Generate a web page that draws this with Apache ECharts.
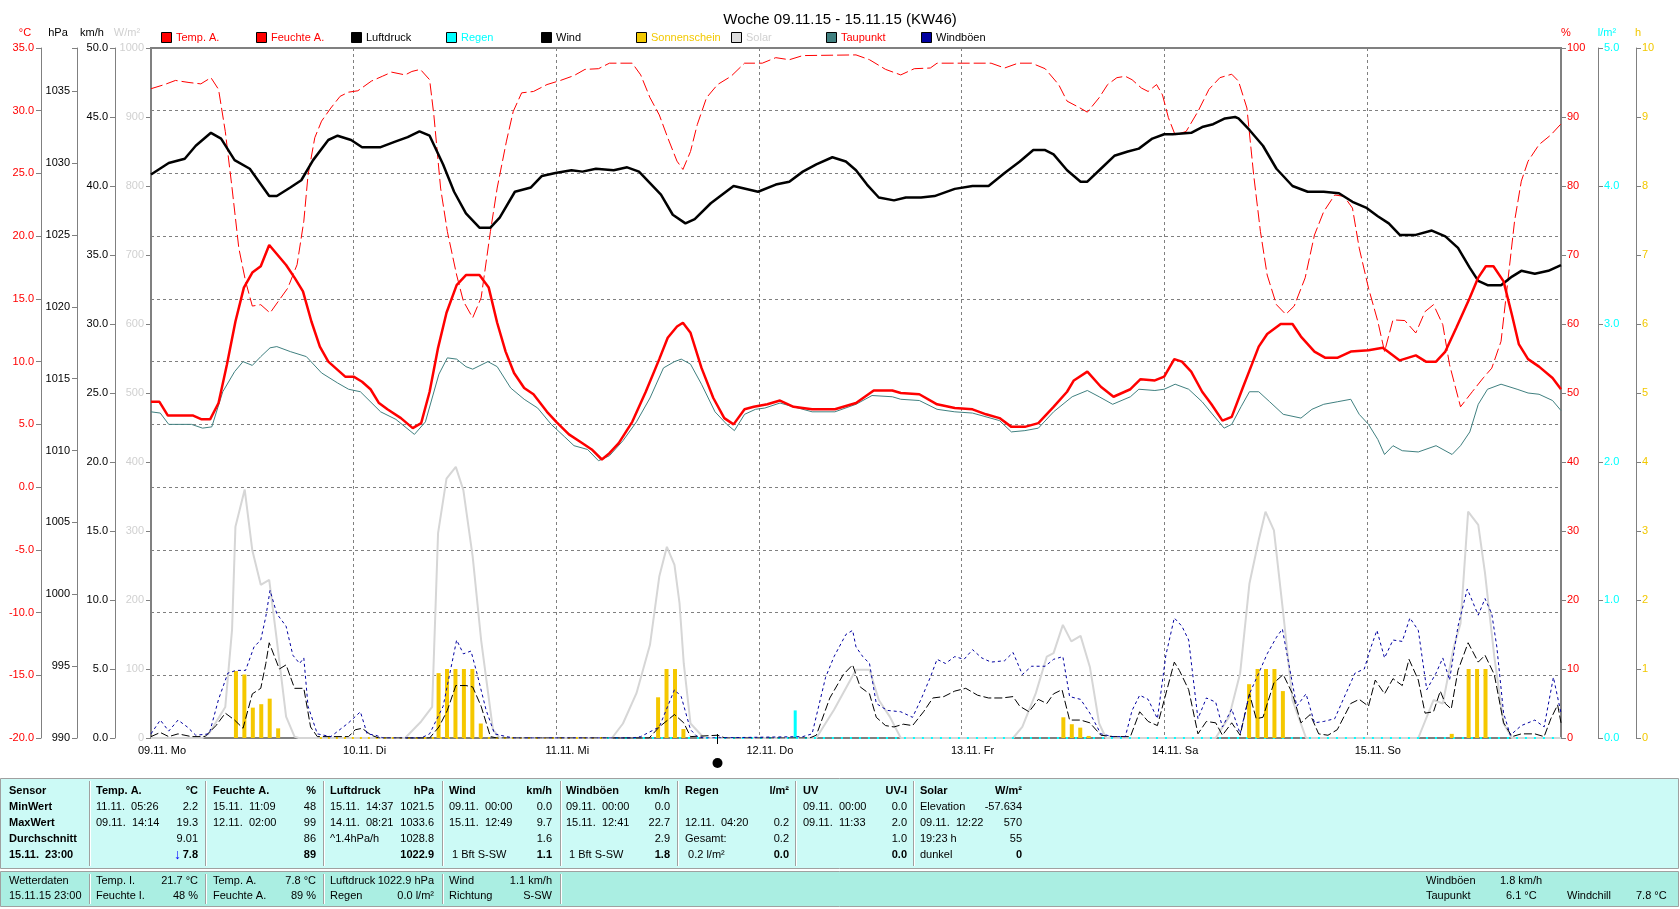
<!DOCTYPE html>
<html>
<head>
<meta charset="utf-8">
<script src="https://cdn.jsdelivr.net/npm/echarts@6/dist/echarts.min.js"></script>
<style>
html,body{margin:0;padding:0;background:#fff;}
#chart{width:1680px;height:909px;}
</style>
</head>
<body>
<div id="chart"></div>
<script>
// ---------------- DATA (hour since 09.11. 00:00, value) ----------------
const dayLabels = ['09.11. Mo','10.11. Di','11.11. Mi','12.11. Do','13.11. Fr','14.11. Sa','15.11. So'];

const temperature = [[0,6.8],[1,6.8],[2,5.7],[5,5.7],[6,5.4],[7,5.4],[8,6.7],[9,9.8],[10,13.2],[11,15.9],[12,17.1],[13,17.6],[14,19.3],[16,17.7],[17,16.7],[18,15.6],[19,13.2],[20,11.2],[21,10.0],[22,9.4],[23,8.8],[24,8.8],[25,8.4],[26,7.8],[27,6.7],[28,6.2],[29.6,5.5],[31,4.7],[32,5.1],[33,7.6],[34,11.1],[35,13.9],[36.2,16.1],[37.3,16.9],[38.9,16.9],[40,15.9],[41,13.1],[42,10.8],[43,9.1],[44.2,7.9],[45.3,7.4],[46.9,6.0],[48,5.2],[49.5,4.2],[51.1,3.5],[52.2,3.0],[53.4,2.2],[54.3,2.7],[55.4,3.5],[57,5.2],[58.6,7.6],[60.2,10.2],[61.2,11.9],[62.3,12.8],[63,13.1],[63.9,12.3],[65.2,9.5],[66.6,7.1],[67.9,5.5],[69,5.0],[70.3,6.2],[71.4,6.4],[73,6.6],[74.5,6.9],[76.1,6.4],[78.3,6.2],[81,6.2],[83.5,6.7],[85.6,7.7],[87.8,7.7],[88.8,7.5],[91,7.4],[93.1,6.6],[95.2,6.3],[97.3,6.2],[98.9,5.8],[100.5,5.5],[101.9,4.8],[103.5,4.8],[105.1,5.1],[106.9,6.4],[108.5,7.6],[109.3,8.5],[110.9,9.2],[112.5,8.0],[114,7.2],[116,7.8],[117.2,8.6],[118.9,8.5],[120,8.8],[121.2,10.2],[122.1,10.0],[123.2,9.2],[124.5,7.6],[125.6,6.6],[126.9,5.3],[128,5.6],[129.3,7.9],[130.4,9.8],[131.2,11.2],[132.2,12.2],[133.8,13.0],[135.2,13.0],[136.2,12.0],[137.8,10.8],[139.1,10.3],[140.5,10.3],[142.1,10.8],[144.2,10.9],[145.9,11.1],[147.9,10.1],[149.8,10.5],[151,10.0],[152.2,10.0],[153.3,10.8],[154.6,12.7],[156.2,15.1],[157.2,16.7],[158.1,17.6],[159,17.6],[160.2,16.4],[161.2,13.7],[162,11.4],[163.1,10.2],[164.4,9.6],[166,8.7],[167,7.8]];

const humidity = [[0,94.1],[1.6,94.7],[2.9,95.3],[4.5,95.0],[5.9,94.8],[7.1,95.7],[8,94],[8.8,87.9],[9.6,79.7],[10.4,71],[11.2,66.2],[12,62.6],[13,62.8],[14.1,61.6],[15.2,63.5],[16.2,65.2],[17.3,68.6],[18.1,74.9],[18.6,81.6],[19.4,87],[20.2,89.4],[21.3,91.3],[22.4,93],[23.4,93.6],[24.5,93.8],[26.1,95.2],[27.4,95.9],[28.5,96.5],[30.1,96.1],[30.9,96.6],[31.9,96.9],[33,95.4],[33.5,90.3],[34.3,79.7],[35.1,73.4],[36.2,67.1],[37,63.3],[38.1,60.9],[39.1,63.8],[40.2,73.4],[41,79.7],[42.1,86.5],[42.9,90.8],[43.9,93.5],[45.3,93.7],[46.9,94.7],[48.5,95.3],[50.1,96],[51.4,96.9],[53,97],[54.3,97.8],[57,97.8],[58,96.1],[59.1,92.8],[60.2,90.3],[61.2,87],[62.3,83.6],[63,82.4],[63.9,85],[64.7,88.9],[65.8,92.8],[67.1,94.7],[68.7,95.9],[70.3,97.8],[72.4,97.8],[74,98.6],[75.6,98.3],[77.2,98.9],[83.5,99],[85.1,98.3],[87,96.9],[88.8,96.1],[90.4,97],[92.3,97.1],[93.1,97.8],[99.5,97.8],[101.1,97.1],[102.7,97.8],[104.3,97.8],[105.9,97],[107.5,94.7],[108.5,92.3],[109.9,91.4],[110.9,90.7],[112.3,92.8],[113.3,94.7],[114.4,95.7],[115.4,95.9],[116.2,95.4],[117.3,94.2],[118.1,93.7],[119.1,94.7],[119.8,93.2],[120.5,89.9],[121.3,87.4],[122.6,87.9],[124,90.8],[125.3,94],[126.6,95.7],[128,96.2],[128.8,95.2],[129.8,91.3],[130.6,81.6],[131.4,73.4],[132.2,67.1],[133.3,62.8],[134.4,61.4],[135.4,62.6],[136.7,66.7],[137.8,72.9],[138.9,76.3],[140.2,78.7],[141.3,78.5],[142.3,76.8],[143.1,71],[144.2,65.2],[145.3,60.4],[146.1,56],[147.1,60.6],[148.5,60.5],[149.8,58.7],[150.9,61.8],[151.9,62.8],[153,59.9],[153.8,54.1],[155.1,48],[156.5,50.2],[157.8,52.2],[158.8,53.6],[159.9,57.5],[160.7,66.2],[161.5,74.9],[162.3,80.7],[163.1,83.6],[164.4,86],[165.8,87.4],[167,89]];

const pressure = [[0,1029.2],[2.1,1030],[4,1030.3],[5.3,1031.2],[7.1,1032.1],[8.3,1031.7],[9.9,1030.2],[11.7,1029.6],[14,1027.7],[14.9,1027.7],[16.5,1028.3],[17.8,1028.8],[19.2,1030.2],[21,1031.6],[22.1,1031.9],[23.7,1031.6],[25,1031.1],[27.2,1031.1],[29,1031.5],[30.4,1031.8],[31.8,1032.2],[33,1031.9],[34.6,1029.9],[35.9,1028],[37.3,1026.5],[38.9,1025.5],[40.2,1025.5],[41.3,1026.2],[43.1,1028],[45,1028.3],[46.3,1029.1],[47.9,1029.3],[49.8,1029.5],[51.1,1029.4],[52.7,1029.6],[54.8,1029.5],[56.4,1029.7],[57.8,1029.4],[59.1,1028.6],[60.4,1027.8],[61.8,1026.4],[63.3,1025.8],[64.4,1026.1],[66.3,1027.2],[69,1028.4],[71.9,1028],[74,1028.5],[75.6,1028.7],[77.2,1029.4],[78.8,1029.9],[80.7,1030.4],[82.3,1030.1],[83.5,1029.5],[84.8,1028.5],[86.2,1027.6],[88,1027.4],[89.4,1027.6],[91.2,1027.6],[92.8,1027.7],[95.2,1028.2],[97.3,1028.4],[99.2,1028.4],[101.1,1029.3],[102.9,1030.1],[104.5,1030.9],[105.9,1030.9],[106.9,1030.6],[108.5,1029.5],[110.1,1028.7],[110.9,1028.7],[112.5,1029.6],[114.1,1030.5],[115.7,1030.8],[117,1031],[118.6,1031.7],[120,1032],[121,1032],[123.2,1032.1],[124.5,1032.5],[125.8,1032.7],[127.2,1033.1],[128.4,1033.2],[128.8,1033.1],[130.1,1032.3],[131.7,1031.2],[133.3,1029.6],[135.2,1028.4],[137,1028],[138.9,1028],[140.7,1027.9],[142.3,1027.3],[143.9,1026.9],[145.3,1026.3],[146.6,1025.8],[147.9,1025],[149.8,1025],[151.7,1025.3],[153.3,1024.9],[154.8,1024.1],[156.2,1022.7],[157.2,1021.8],[158.3,1021.5],[159.9,1021.5],[161.2,1022.1],[162.3,1022.5],[163.9,1022.3],[165.5,1022.5],[167,1022.9]];

const dewPoint = [[0,6.0],[1.1,5.9],[2.1,5.0],[4.8,5.0],[6.1,4.7],[7.2,4.8],[8.5,7.6],[9.9,9.2],[10.9,10.0],[12,9.7],[13,10.4],[14.1,11.1],[14.9,11.2],[16.5,10.8],[18.4,10.4],[20.2,9.1],[22.1,8.3],[23.4,7.8],[24.8,7.6],[27.2,6.0],[29,5.4],[31.2,4.2],[32.5,5.2],[34.1,9.0],[35.1,10.3],[36.2,10.2],[37.3,9.6],[38.1,9.4],[39.9,10.0],[41,9.6],[42.6,7.9],[44.2,7.0],[45.8,6.3],[47.4,5.0],[49,4.0],[50.1,3.3],[51.7,3.0],[53,2.1],[54.3,2.5],[55.9,3.7],[57.5,5.2],[59.1,7.1],[60.7,9.5],[62,10.0],[62.8,10.2],[63.9,9.8],[65.2,8.2],[66.8,6.0],[68.2,5.0],[69.1,4.5],[70.3,5.8],[71.6,6.2],[72.7,6.3],[74.5,6.7],[76.1,6.4],[78.3,6.0],[81,6.0],[83.5,6.6],[85.4,7.3],[87.8,7.2],[88.8,7.0],[91,6.9],[93.1,6.2],[95.2,6.0],[97.3,5.9],[98.9,5.6],[100.5,5.3],[101.9,4.4],[103.5,4.5],[105.1,4.7],[106.9,6.0],[109.1,7.2],[110.9,7.7],[112.3,7.2],[113.9,6.6],[116,7.2],[117,7.8],[118.9,7.7],[120,7.8],[121.3,8.2],[122.9,7.8],[124.5,6.8],[125.6,5.9],[127.1,4.7],[128,5.0],[129.1,6.4],[130.1,7.6],[131.2,7.6],[132.5,6.8],[134.1,5.8],[136.2,5.5],[137.5,6.2],[138.9,6.6],[140.5,6.8],[142.1,7.0],[143.1,5.8],[144.2,5.0],[145.3,3.8],[146.1,2.6],[147.1,3.3],[148.2,2.9],[150.1,2.8],[152.2,3.3],[154.1,2.6],[155.1,3.3],[156.2,4.4],[157.2,6.6],[158.3,7.8],[159.9,8.2],[161.8,7.8],[163.1,7.5],[164.4,7.4],[166,6.9],[167,6.1]];

const solar = [[0,0],[6.1,0],[6.9,7],[8.8,45],[9.6,157],[10,306],[11.1,360],[12,272],[13,222],[14,229],[14.9,142],[16,31],[17,2],[17.5,0],[30.1,0],[32,24],[33.3,45],[34,297],[35,376],[36.1,393],[37,359],[38.1,263],[39.1,142],[40.5,12],[41.3,0],[54.6,0],[55.9,21],[57.5,65],[59.1,135],[60.2,234],[61.1,277],[62,251],[62.6,195],[63.1,108],[63.9,21],[65.5,0],[78.8,0],[80.9,41],[83.5,99],[85.1,99],[86.2,55],[87.5,31],[88.8,0],[102.1,0],[103.2,16],[104.8,65],[106.1,118],[106.9,123],[108,164],[109,140],[110.1,148],[111.2,103],[112.3,21],[113.1,0],[126.1,0],[127.7,31],[129,94],[130.1,224],[131.2,287],[132,328],[133,301],[134.1,181],[135.2,55],[136.8,0],[150.1,0],[151.9,55],[153,50],[154.3,132],[155.1,166],[156,328],[157.2,309],[158,239],[159.1,118],[160.2,21],[161.2,0],[167,0]];

const sunshine = [[10,0.97],[11,0.92],[12,0.44],[13,0.49],[14,0.57],[15,0.14],[34,0.94],[35,1.0],[36,1.0],[37,1.0],[38,1.0],[39,0.21],[60,0.59],[61,1.0],[62,1.0],[63,0.13],[108,0.3],[109,0.2],[110,0.15],[111,0.03],[130,0.78],[131,1.0],[132,1.0],[133,1.0],[134,0.68],[154,0.06],[156,1.0],[157,1.0],[158,1.0]];
const sunshineZero = [[20,0],[54,0]];

const rain = [[76.3,0.2]];
const rainZero = [[54,0],[167,0]];

const wind = [[0,0.1],[1.1,0.4],[2.1,0.1],[3.2,0.3],[4.8,0.1],[6.4,0.1],[7.7,0.9],[8.8,1.8],[9.9,1.3],[10.9,0.7],[12,3.2],[13,3.6],[13.6,5.4],[14,6.9],[15.2,5.0],[16,5.3],[17,3.6],[18.1,3.6],[18.9,0.8],[19.7,0.1],[23.4,0.1],[24.2,0.6],[25,0.7],[26.1,0.2],[27,0],[33,0],[34.1,0.8],[35.1,2.0],[36.1,3.8],[37.3,3.8],[38.1,3.7],[39.1,2.3],[40.2,0.1],[41,0],[59,0],[60.2,0.8],[62,1.7],[63.1,1.1],[63.9,0.1],[67.1,0.2],[68,0],[78,0],[78.8,0.2],[80.4,2.9],[82,4.6],[83.1,5.3],[84,3.7],[85.1,3.2],[85.9,1.5],[87,0.9],[88,0.8],[89.1,1.0],[90.2,0.9],[91.5,1.9],[92.6,2.9],[93.9,3.0],[95.2,3.4],[96.5,3.6],[97.9,3.1],[99.2,2.9],[100.8,2.9],[102.1,3.0],[102.9,2.3],[104,1.9],[105.1,2.8],[106.1,2.5],[106.9,3.2],[107.9,3.5],[108.8,1.3],[110.1,1.3],[111.2,1.1],[112.5,0.2],[114,0.1],[116,0.1],[117.1,1.9],[118.1,1.2],[119.2,0.9],[120.2,3.2],[121.2,5.5],[121.8,4.9],[122.9,3.5],[124,0.3],[125,1.2],[126.1,1.1],[126.9,0.2],[128,1.1],[129,0.2],[130.1,3.2],[130.9,1.4],[131.7,1.5],[133,4.0],[134.1,4.6],[135.2,3.2],[136.2,1.1],[137.3,1.7],[138.3,0.3],[139.4,0.2],[140.5,0.6],[142.1,2.5],[143.1,2.8],[144.2,2.3],[145,4.2],[146.1,3.2],[147.1,4.3],[148.2,3.8],[149,5.7],[150.1,4.2],[150.9,1.8],[151.9,1.9],[152.7,3.4],[153.3,2.5],[154,2.1],[154.8,4.9],[156,6.9],[157.2,5.5],[158,6.0],[159.1,4.6],[160.2,1.1],[161.2,0.1],[162.3,0.3],[163.9,0.3],[165,0.1],[165.8,1.4],[166.6,2.4],[167,1.1]];

const gusts = [[0,0.3],[1.1,1.3],[2.1,0.5],[3.2,1.3],[4.3,0.8],[5.3,0.2],[6.9,0.3],[8,2.8],[9.1,4.7],[10.1,4.9],[11.2,4.9],[12.2,6.6],[13,7.1],[13.6,8.8],[14.1,10.7],[14.9,9.0],[16,8.1],[16.8,6.0],[17.6,5.4],[18.1,5.8],[18.6,2.3],[19.7,0.3],[21.3,0.1],[23.4,1.1],[24.8,1.9],[25.6,0.3],[26.6,0.2],[27.5,0],[32,0],[33,0.3],[34.6,2.3],[35.4,4.7],[36.2,7.1],[37,6.1],[37.9,6.3],[38.6,4.7],[39.7,2.0],[40.7,0.3],[42.1,0.1],[43,0],[57,0],[58,0.1],[60.2,0.8],[61.2,2.3],[62,3.5],[62.8,3.0],[63.9,0.6],[64.7,0.1],[65.5,0],[77.2,0.1],[78.3,0.3],[79.9,4.4],[80.9,5.9],[82.3,7.5],[83.1,7.8],[83.5,6.6],[84.3,5.9],[85.1,5.4],[85.9,2.5],[87.2,2.0],[88.8,1.9],[90.2,1.5],[91.2,2.8],[92.3,4.4],[93.1,5.7],[94.1,5.4],[95.2,5.9],[96.3,5.7],[97.3,6.4],[98.4,5.8],[99.5,5.5],[101.1,5.6],[102.1,6.2],[103.2,4.6],[104.3,5.2],[105.9,5.2],[106.9,5.7],[108,5.9],[108.8,3.0],[110.1,2.8],[111.2,1.8],[112.5,0.3],[113.9,0.1],[115.4,0.1],[116.2,2.0],[117.1,3.1],[118.1,2.8],[119.2,1.4],[120.2,6.0],[121.2,8.7],[122.1,8.1],[122.9,7.1],[124,1.4],[125,2.9],[126.1,2.6],[126.9,0.8],[128,2.1],[129,0.3],[130.1,3.2],[131.2,4.7],[132.2,6.1],[133.3,7.3],[134,7.9],[134.9,4.9],[135.7,2.3],[136.8,3.2],[137.8,1.1],[138.9,1.2],[140.2,1.4],[141.5,3.2],[142.6,4.7],[143.7,5.0],[144.5,6.6],[145.2,7.8],[146.1,5.8],[147.1,7.1],[148.2,7.0],[149.1,8.7],[150.1,7.8],[151.1,3.5],[152.2,4.7],[153,5.8],[153.8,4.2],[154.8,8.1],[155.9,10.8],[157.2,8.9],[158,10.1],[158.8,9.0],[159.4,6.6],[160.2,1.8],[161,0.2],[162.3,0.9],[163.9,1.3],[165,0.8],[166.1,4.4],[167,1.8]];

const moonPhaseHour = 67;

// legend entries: name, box colour, text colour
const legendItems = [
  ['Temp. A.','#ff0000','#ff0000'],
  ['Feuchte A.','#ff0000','#ff0000'],
  ['Luftdruck','#000000','#000000'],
  ['Regen','#00ffff','#00ffff'],
  ['Wind','#000000','#000000'],
  ['Sonnenschein','#f2c800','#f2c800'],
  ['Solar','#dcdcdc','#d0d0d0'],
  ['Taupunkt','#408080','#ff0000'],
  ['Windböen','#0000a0','#000000']
];

// summary table
const tableHeaders = [['Sensor',''],['Temp. A.','°C'],['Feuchte A.','%'],['Luftdruck','hPa'],['Wind','km/h'],['Windböen','km/h'],['Regen','l/m²'],['UV','UV-I'],['Solar','W/m²']];
const tableRowLabels = ['MinWert','MaxWert','Durchschnitt','15.11.  23:00'];
const tableCells = [
  [['11.11.  05:26','2.2'],['09.11.  14:14','19.3'],['','9.01'],['','7.8']],
  [['15.11.  11:09','48'],['12.11.  02:00','99'],['','86'],['','89']],
  [['15.11.  14:37','1021.5'],['14.11.  08:21','1033.6'],['^1.4hPa/h','1028.8'],['','1022.9']],
  [['09.11.  00:00','0.0'],['15.11.  12:49','9.7'],['','1.6'],[' 1 Bft S-SW','1.1']],
  [['09.11.  00:00','0.0'],['15.11.  12:41','22.7'],['','2.9'],[' 1 Bft S-SW','1.8']],
  [['',''],['12.11.  04:20','0.2'],['Gesamt:','0.2'],[' 0.2 l/m²','0.0']],
  [['09.11.  00:00','0.0'],['09.11.  11:33','2.0'],['','1.0'],['','0.0']],
  [['Elevation','-57.634'],['09.11.  12:22','570'],['19:23 h','55'],['dunkel','0']]
];
const footerCells = [
  [['Wetterdaten',''],['15.11.15 23:00','']],
  [['Temp. I.','21.7 °C'],['Feuchte I.','48 %']],
  [['Temp. A.','7.8 °C'],['Feuchte A.','89 %']],
  [['Luftdruck','1022.9 hPa'],['Regen','0.0 l/m²']],
  [['Wind','1.1 km/h'],['Richtung','S-SW']]
];
const footerExtra = [['Windböen','1.8 km/h'],['Taupunkt','6.1 °C']];
const footerWindchill = ['Windchill','7.8 °C'];

// ---------------- LAYOUT / STYLE ----------------
const FONT = '"Liberation Sans", Arial, sans-serif';
const GRID = {left:151, top:48, width:1410, height:690};
const colLeft  = [9, 96, 213, 330, 449, 566, 685, 803, 920];
const colRight = [0, 198, 316, 434, 552, 670, 789, 907, 1022];
const colSeps  = [89, 205, 323, 442, 560, 677, 795, 913];
const rowY = [791, 807, 823, 839, 855];
const footRowY = [881, 896];

function txt(text, x, y, o) {
  o = o || {};
  const al = o.align || 'left';
  return {type:'text', silent:true, z: 120,
    style:{text:text, x:x, y:y, fill:o.color || '#000',
      font:(o.bold ? 'bold ' : '') + (o.size || 11) + 'px ' + FONT,
      textAlign:al, align:al, textVerticalAlign:'middle', verticalAlign:'middle'}};
}
function rect(x,y,w,h,fill,stroke){
  return {type:'rect', silent:true, z:100, shape:{x:x,y:y,width:w,height:h},
    style:{fill:fill, stroke:stroke || null, lineWidth:1}};
}
function vline(x,y1,y2,color,w){
  return {type:'line', silent:true, z:110, shape:{x1:x,y1:y1,x2:x,y2:y2},
    style:{stroke:color, lineWidth:w || 1}};
}

const graphics = [];
// axis titles
graphics.push(txt('°C', 25, 33, {color:'#ff0000', align:'center'}));
graphics.push(txt('hPa', 58, 33, {align:'center'}));
graphics.push(txt('km/h', 92, 33, {align:'center'}));
graphics.push(txt('W/m²', 127, 33, {color:'#d0d0d0', align:'center'}));
graphics.push(txt('%', 1566, 33, {color:'#ff0000', align:'center'}));
graphics.push(txt('l/m²', 1607, 33, {color:'#00ffff', align:'center'}));
graphics.push(txt('h', 1638, 33, {color:'#f2c800', align:'center'}));
// legend
legendItems.forEach(function(it, i){
  const x = 161 + i*95;
  graphics.push({type:'rect', silent:true, z:120, shape:{x:x+0.5,y:32.5,width:10,height:10},
    style:{fill:it[1], stroke:'#000', lineWidth:1}});
  graphics.push(txt(it[0], x+15, 38, {color:it[2]}));
});
// table panels
graphics.push(rect(0.5, 778.5, 1678, 90, '#ccfaf6', '#a0a0a0'));
graphics.push(rect(0.5, 871.5, 1678, 35, '#aaeee2', '#a0a0a0'));
colSeps.forEach(function(x){
  graphics.push(vline(x+0.5, 781, 866, '#a0a0a0'));
  graphics.push(vline(x+1.5, 781, 866, '#ffffff'));
});
colSeps.slice(0,5).forEach(function(x){
  graphics.push(vline(x+0.5, 874, 904, '#a0a0a0'));
  graphics.push(vline(x+1.5, 874, 904, '#ffffff'));
});
// headers
tableHeaders.forEach(function(h, c){
  graphics.push(txt(h[0], colLeft[c], rowY[0], {bold:true}));
  if (h[1]) graphics.push(txt(h[1], colRight[c], rowY[0], {bold:true, align:'right'}));
});
tableRowLabels.forEach(function(l, r){
  graphics.push(txt(l, colLeft[0], rowY[r+1], {bold:true}));
});
tableCells.forEach(function(col, ci){
  const c = ci + 1;
  col.forEach(function(cell, r){
    const last = r === 3;
    if (cell[0]) graphics.push(txt(cell[0], colLeft[c], rowY[r+1]));
    if (cell[1]) graphics.push(txt(cell[1], colRight[c], rowY[r+1], {bold:last, align:'right'}));
  });
});
// trend arrow in the temperature column
graphics.push(txt('↓', colRight[1] - 17, rowY[4], {color:'#0000ff', bold:true, size:14, align:'right'}));
// footer
footerCells.forEach(function(col, c){
  col.forEach(function(cell, r){
    graphics.push(txt(cell[0], colLeft[c], footRowY[r]));
    if (cell[1]) graphics.push(txt(cell[1], colRight[c], footRowY[r], {align:'right'}));
  });
});
footerExtra.forEach(function(cell, r){
  graphics.push(txt(cell[0], 1426, footRowY[r]));
  graphics.push(txt(cell[1], 1500 + (r===1 ? 6 : 0), footRowY[r]));
});
graphics.push(txt(footerWindchill[0], 1567, footRowY[1]));
graphics.push(txt(footerWindchill[1], 1636, footRowY[1]));

// ---------------- CHART ----------------
function yAxisDef(o){
  return {
    type:'value', position:o.pos, offset:o.offset, min:o.min, max:o.max, interval:o.interval,
    axisLine:{show:true, onZero:false, lineStyle:{color:'#808080', width:o.lw || 1}},
    axisTick:{show:true, length:5, lineStyle:{color:'#808080'}},
    splitLine:{show:!!o.split, lineStyle:{color:'#808080', type:[3,3], width:1}},
    axisLabel:{color:o.color, fontSize:11, fontFamily:FONT, margin:o.margin || 7,
      formatter:o.fmt || function(v){ return String(v); }}
  };
}

const chart = echarts.init(document.getElementById('chart'), null, {renderer:'canvas'});
const lineBase = {type:'line', xAxisIndex:0, symbol:'none', showSymbol:false, animation:false,
  emphasis:{disabled:true}, silent:true};

const option = {
  animation:false,
  backgroundColor:'#ffffff',
  title:{text:'Woche 09.11.15 - 15.11.15 (KW46)', left:'center', top:7,
    textStyle:{fontSize:15, fontWeight:'normal', color:'#000', fontFamily:FONT}},
  grid:{left:GRID.left, top:GRID.top, width:GRID.width, height:GRID.height,
    show:true, borderColor:'#808080', borderWidth:2, backgroundColor:'transparent'},
  xAxis:{type:'value', min:0, max:167, interval:24,
    axisLine:{show:true, onZero:false, lineStyle:{color:'#808080', width:2}},
    axisTick:{show:false},
    splitLine:{show:true, lineStyle:{color:'#808080', type:[3,3], width:1}},
    axisLabel:{margin:7, color:'#000', fontSize:11, fontFamily:FONT,
      formatter:function(v){ const l = dayLabels[v/24]; return l ? '{d|' + l + '}' : ''; },
      rich:{d:{padding:[0,0,0,22], fontSize:11, fontFamily:FONT, color:'#000'}}}
  },
  yAxis:[
    yAxisDef({pos:'left', offset:110, min:-20, max:35, interval:5, color:'#ff0000', split:true,
      fmt:function(v){return v.toFixed(1);}}),
    yAxisDef({pos:'left', offset:74, min:990, max:1038, interval:5, color:'#000',
      fmt:function(v){return v % 5 === 0 ? String(v) : '';}}),
    yAxisDef({pos:'left', offset:36, min:0, max:50, interval:5, color:'#000',
      fmt:function(v){return v.toFixed(1);}}),
    yAxisDef({pos:'left', offset:0, min:0, max:1000, interval:100, color:'#d0d0d0', lw:2}),
    yAxisDef({pos:'right', offset:0, min:0, max:100, interval:10, color:'#ff0000', lw:2, margin:6}),
    yAxisDef({pos:'right', offset:37, min:0, max:5, interval:1, color:'#00ffff', margin:6,
      fmt:function(v){return v.toFixed(1);}}),
    yAxisDef({pos:'right', offset:75, min:0, max:10, interval:1, color:'#f2c800', margin:6})
  ],
  graphic: graphics,
  series:[
    Object.assign({}, lineBase, {name:'Solar', yAxisIndex:3, data:solar, z:1,
      lineStyle:{color:'#d6d6d6', width:2}}),
    Object.assign({}, lineBase, {name:'Sonnenschein0', yAxisIndex:6, data:sunshineZero, z:1,
      lineStyle:{color:'#f2c800', width:2, type:[2,6]}}),
    Object.assign({}, lineBase, {name:'Regen0', yAxisIndex:5, data:rainZero, z:1,
      lineStyle:{color:'#00ffff', width:2, type:[2,7]}}),
    {name:'Sonnenschein', type:'bar', xAxisIndex:0, yAxisIndex:6, data:sunshine, barWidth:4,
      barGap:'-100%', itemStyle:{color:'#f5c800'}, z:2, silent:true, animation:false},
    {name:'Regen', type:'bar', xAxisIndex:0, yAxisIndex:5, data:rain, barWidth:3,
      barGap:'-100%', itemStyle:{color:'#00ffff'}, z:2, silent:true, animation:false},
    Object.assign({}, lineBase, {name:'Wind', yAxisIndex:2, data:wind, z:3,
      lineStyle:{color:'#000000', width:1, type:[8,3]}}),
    Object.assign({}, lineBase, {name:'Windböen', yAxisIndex:2, data:gusts, z:3,
      lineStyle:{color:'#0000a0', width:1, type:[3,3]}}),
    Object.assign({}, lineBase, {name:'Taupunkt', yAxisIndex:0, data:dewPoint, z:4,
      lineStyle:{color:'#408080', width:1}}),
    Object.assign({}, lineBase, {name:'Feuchte A.', yAxisIndex:4, data:humidity, z:5,
      lineStyle:{color:'#ff0000', width:1, type:[12,4]}}),
    Object.assign({}, lineBase, {name:'Luftdruck', yAxisIndex:1, data:pressure, z:6,
      lineStyle:{color:'#000000', width:2.5}}),
    Object.assign({}, lineBase, {name:'Temp. A.', yAxisIndex:0, data:temperature, z:7,
      lineStyle:{color:'#ff0000', width:2.5}})
  ]
};
chart.setOption(option);

// moon phase marker below the time axis
const mx = Math.round(chart.convertToPixel({xAxisIndex:0}, moonPhaseHour)) + 0.5;
const bottomY = GRID.top + GRID.height;
chart.setOption({graphic: graphics.concat([
  vline(mx, bottomY - 4, bottomY + 6, '#000000'),
  {type:'circle', silent:true, z:120, shape:{cx:mx, cy:bottomY + 25, r:5}, style:{fill:'#000000'}}
])});
</script>
</body>
</html>
